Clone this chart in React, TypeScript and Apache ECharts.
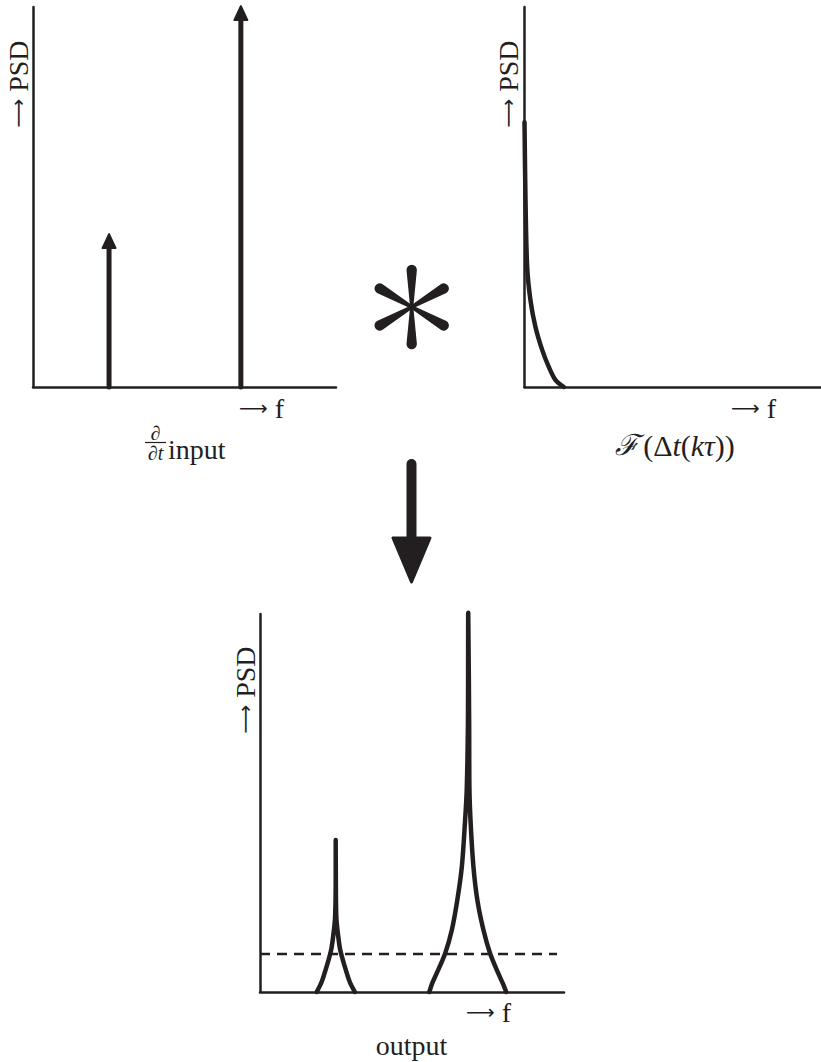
import React, { useEffect, useRef } from "react";
import * as echarts from "echarts";

const INK = "#231f20";
const FONT = '"Liberation Serif", "DejaVu Serif", serif';
const ARROW_FONT = '"DejaVu Sans", sans-serif';

// top-left: derivative of input (two spectral lines)
const inputFreq = [25.1, 68.6];
const inputPsd = [40.5, 100.5];

// top-right: Fourier transform of the kernel
const kernelFreq = [0, 0.34, 0.9, 2.0, 3.7, 6.0, 8.2, 10.5, 13.3];
const kernelPsd = [69.7, 49.2, 31.6, 22.9, 15.8, 9.7, 5.3, 1.8, 0];

// bottom: output peaks
const peak1Freq = [18.65, 20.3, 21.9, 23.4, 24.2, 24.7, 24.9, 24.9, 24.95, 25.1, 25.6, 26.4, 27.9, 29.5, 31.2];
const peak1Psd = [0, 2.7, 6.7, 11.1, 15.6, 19.9, 29.6, 40.2, 29.6, 19.9, 15.6, 11.1, 6.7, 2.7, 0];
const peak2Freq = [55.7, 56.7, 58.1, 60.9, 63.1, 64.9, 66.4, 67.4, 68.0, 68.4, 68.5, 68.8, 68.9, 69.3, 70.2, 71.5, 73.5, 75.7, 78.4, 79.8, 81.0];
const peak2Psd = [0, 2.4, 4.9, 10.2, 16.4, 24.3, 33.2, 44.6, 53.4, 71.2, 100.3, 71.2, 53.4, 44.6, 33.2, 24.3, 16.4, 10.2, 4.9, 2.4, 0];
const noiseFreq = [0, 97.7];
const noisePsd = [10.05, 10.05];

const zip = (a: number[], b: number[]) => a.map((v, i) => [v, b[i]]);

const axisBase = (gridIndex: number) => ({
  gridIndex,
  type: "value" as const,
  min: 0,
  max: 100,
  axisLine: { show: true, lineStyle: { color: INK, width: 2.5 } },
  axisTick: { show: false },
  axisLabel: { show: false },
  splitLine: { show: false },
});

const richBase = {
  a: { font: `20px ${ARROW_FONT}`, fill: INK },
  t: { font: `28px ${FONT}`, fill: INK },
};

const arrowLabel = (label: string, x: number, y: number, align: string, rotation = 0) => ({
  type: "text",
  x,
  y,
  rotation,
  style: {
    text: `{a|⟶}{t| ${label}}`,
    fill: INK,
    align,
    verticalAlign: "middle",
    rich: richBase,
  },
});

export default function App() {
  const ref = useRef<HTMLDivElement>(null);
  useEffect(() => {
    if (!ref.current) return;
    echarts.graphic.registerShape(
      "spoke",
      echarts.graphic.extendPath("M -1.6 0 L -5.2 -37 A 5.2 5.2 0 0 1 5.2 -37 L 1.6 0 Z", {})
    );
    const chart = echarts.init(ref.current, null, { renderer: "svg" });
    const spokes = [0, 1, 2, 3, 4, 5].map((k) => ({
      type: "spoke",
      x: 411.7,
      y: 307,
      rotation: (k * Math.PI) / 3,
      style: { fill: INK },
    }));
    const lineCommon = {
      type: "line",
      symbol: "none",
      clip: false,
      lineStyle: { color: INK, width: 4.5, cap: "round", join: "round" },
    };
    chart.setOption({
      animation: false,
      grid: [
        { left: 33, top: 7, width: 303, height: 380 },
        { left: 524.5, top: 7, width: 296, height: 380 },
        { left: 260, top: 614, width: 304, height: 378 },
      ],
      xAxis: [axisBase(0), axisBase(1), axisBase(2)],
      yAxis: [axisBase(0), axisBase(1), axisBase(2)],
      series: [
        {
          type: "custom",
          xAxisIndex: 0,
          yAxisIndex: 0,
          clip: false,
          data: zip(inputFreq, inputPsd),
          renderItem: (params: any, api: any) => {
            const x = api.value(0);
            const h = api.value(1);
            const base = api.coord([x, 0]);
            const tip = api.coord([x, h]);
            return {
              type: "group",
              children: [
                {
                  type: "line",
                  shape: { x1: base[0], y1: base[1], x2: tip[0], y2: tip[1] + 12 },
                  style: { stroke: INK, lineWidth: 5, lineCap: "round" },
                },
                {
                  type: "polygon",
                  shape: {
                    points: [
                      [tip[0], tip[1] + 1],
                      [tip[0] - 6.5, tip[1] + 15],
                      [tip[0] + 6.5, tip[1] + 15],
                    ],
                  },
                  style: { fill: INK, stroke: INK, lineWidth: 2, lineJoin: "round" },
                },
              ],
            };
          },
        },
        { ...lineCommon, xAxisIndex: 1, yAxisIndex: 1, data: zip(kernelFreq, kernelPsd), smooth: 0.3 },
        { ...lineCommon, xAxisIndex: 2, yAxisIndex: 2, data: zip(peak1Freq, peak1Psd), smooth: 0.3 },
        { ...lineCommon, xAxisIndex: 2, yAxisIndex: 2, data: zip(peak2Freq, peak2Psd), smooth: 0.3 },
        {
          type: "line",
          xAxisIndex: 2,
          yAxisIndex: 2,
          data: zip(noiseFreq, noisePsd),
          symbol: "none",
          lineStyle: { color: INK, width: 2.5, type: [10, 7] },
        },
      ],
      graphic: [
        arrowLabel("PSD", 18, 84, "center", Math.PI / 2),
        arrowLabel("PSD", 508, 84, "center", Math.PI / 2),
        arrowLabel("PSD", 245, 690, "center", Math.PI / 2),
        arrowLabel("f", 239, 408, "left"),
        arrowLabel("f", 731, 408, "left"),
        arrowLabel("f", 466, 1012, "left"),
        {
          type: "text",
          x: 411.5,
          y: 1045,
          style: { text: "output", fill: INK, font: `28px ${FONT}`, align: "center", verticalAlign: "middle" },
        },
        // d/dt input
        {
          type: "text",
          x: 155.5,
          y: 441.5,
          style: {
            text: "∂",
            fill: INK,
            font: `italic 20px ${FONT}`,
            lineHeight: 18,
            align: "center",
            verticalAlign: "bottom",
          },
        },
        {
          type: "line",
          shape: { x1: 145, y1: 442.5, x2: 166, y2: 442.5 },
          style: { stroke: INK, lineWidth: 1.2 },
        },
        {
          type: "text",
          x: 155.5,
          y: 444,
          style: {
            text: "∂t",
            fill: INK,
            font: `italic 20px ${FONT}`,
            lineHeight: 18,
            align: "center",
            verticalAlign: "top",
          },
        },
        {
          type: "text",
          x: 168,
          y: 449,
          style: { text: "input", fill: INK, font: `28px ${FONT}`, align: "left", verticalAlign: "middle" },
        },
        {
          type: "text",
          x: 675,
          y: 445,
          style: {
            text: "{s|ℱ}{n|(Δ}{i|t}{n|(}{i|kτ}{n|))}",
            fill: INK,
            align: "center",
            verticalAlign: "middle",
            rich: {
              s: { font: `italic 29px ${FONT}`, fill: INK, padding: [0, 4, 0, 0] },
              n: { font: `30px ${FONT}`, fill: INK },
              i: { font: `italic 30px ${FONT}`, fill: INK },
            },
          },
        },
        ...spokes,
        {
          type: "line",
          shape: { x1: 411.5, y1: 464, x2: 411.5, y2: 545 },
          style: { stroke: INK, lineWidth: 10, lineCap: "round" },
        },
        {
          type: "polygon",
          shape: { points: [[393, 538], [430, 538], [411.5, 582]] },
          style: { fill: INK, stroke: INK, lineWidth: 3, lineJoin: "round" },
        },
      ],
    });
    return () => chart.dispose();
  }, []);
  return (
    <div
      ref={ref}
      style={{ position: "absolute", left: 0, top: 0, width: 821, height: 1062, background: "#fff" }}
    />
  );
}
